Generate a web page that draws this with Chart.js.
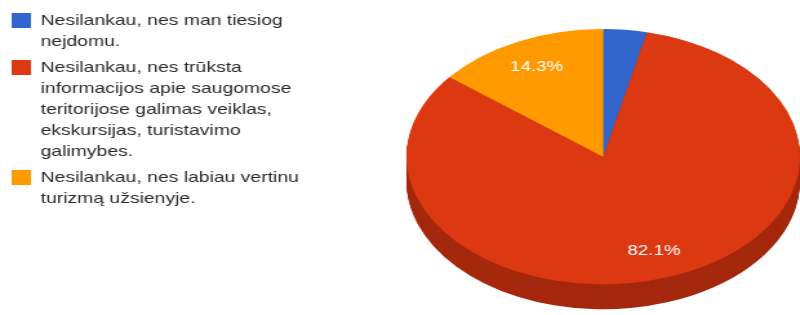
<!DOCTYPE html>
<html>
<head>
<meta charset="utf-8">
<script src="https://cdn.jsdelivr.net/npm/chart.js@4/dist/chart.umd.min.js"></script>
<style>
  html, body { margin: 0; padding: 0; background: #ffffff; }
</style>
</head>
<body>
<canvas id="c" width="620" height="315" style="display:block;width:800px;height:315px;"></canvas>
<script>
// ---- data ----
const categories = [
  ['Nesilankau, nes man tiesiog', 'nejdomu.'],
  ['Nesilankau, nes trūksta', 'informacijos apie saugomose', 'teritorijose galimas veiklas,', 'ekskursijas, turistavimo', 'galimybes.'],
  ['Nesilankau, nes labiau vertinu', 'turizmą užsienyje.']
];
const responses = [1, 23, 4];
const topColors = ['#3366cc', '#dc3912', '#ff9900'];
const sideColors = ['#264d99', '#a5290e', '#bf7300'];

// ---- 3D projection of the library's pie ----
const pie3d = {
  id: 'pie3d',
  beforeDatasetsDraw(chart, args, opts) {
    const arcs = chart.getDatasetMeta(0).data;
    if (!arcs.length) return;
    const ctx = chart.ctx;
    const { x, y, outerRadius: R } = arcs[0];
    const ca = chart.chartArea;
    const cx = ca.right - R;
    const cy = ca.top + opts.topGap + R * opts.tilt;
    chart.$pie3d = { cx, cy, R };
    for (let k = opts.depth; k >= 1; k--) {
      ctx.save();
      ctx.translate(cx, cy + k);
      ctx.scale(1, opts.tilt);
      ctx.translate(-x, -y);
      arcs.forEach((el, i) => {
        const f = Object.create(el);
        f.options = Object.assign({}, el.options, { backgroundColor: opts.sideColors[i] });
        el.draw.call(f, ctx);
      });
      ctx.restore();
    }
    ctx.save();
    ctx.translate(cx, cy);
    ctx.scale(1, opts.tilt);
    ctx.translate(-x, -y);
  },
  afterDatasetsDraw(chart, args, opts) {
    const ctx = chart.ctx;
    ctx.restore();
    const g = chart.$pie3d;
    if (!g) return;
    const arcs = chart.getDatasetMeta(0).data;
    const vals = chart.data.datasets[0].data;
    const total = vals.reduce((a, b) => a + b, 0);
    ctx.save();
    ctx.fillStyle = '#ffffff';
    ctx.font = opts.labelFont;
    ctx.textAlign = 'center';
    ctx.textBaseline = 'middle';
    arcs.forEach((el, i) => {
      const share = vals[i] / total;
      if (share < opts.minShare) return;
      const mid = (el.startAngle + el.endAngle) / 2;
      const px = g.cx + Math.cos(mid) * g.R * opts.labelRadius;
      const py = g.cy + Math.sin(mid) * g.R * opts.labelRadius * opts.tilt;
      ctx.fillText((share * 100).toFixed(1) + '%', px, py);
    });
    ctx.restore();
  }
};

new Chart(document.getElementById('c'), {
  type: 'pie',
  data: {
    labels: categories,
    datasets: [{
      data: responses,
      backgroundColor: topColors,
      borderWidth: 0,
      hoverBorderWidth: 0,
      hoverOffset: 0,
      clip: false
    }]
  },
  plugins: [pie3d],
  options: {
    responsive: false,
    devicePixelRatio: 1,
    animation: false,
    events: [],
    layout: { padding: { left: 4, top: 8, right: 0, bottom: 2 } },
    plugins: {
      tooltip: { enabled: false },
      legend: {
        position: 'left',
        align: 'start',
        maxWidth: 240,
        labels: {
          boxWidth: 15,
          boxHeight: 15,
          padding: 5,
          color: '#2a2a2a',
          font: { family: "'Liberation Sans', Arial, sans-serif", size: 15, lineHeight: '21px' }
        }
      },
      pie3d: {
        tilt: 0.837,
        depth: 25,
        topGap: 21,
        sideColors: sideColors,
        labelRadius: 0.78,
        minShare: 0.05,
        labelFont: "14.5px 'Liberation Sans', Arial, sans-serif"
      }
    }
  }
});
</script>
</body>
</html>
